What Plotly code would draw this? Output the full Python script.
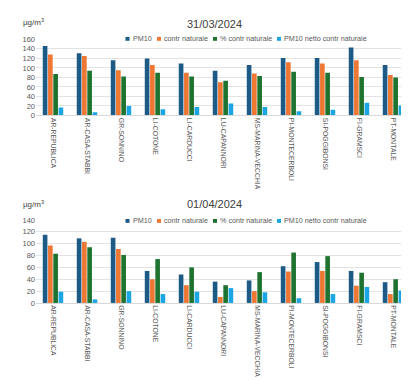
import plotly.graph_objects as go

stations = ["AR-REPUBLICA", "AR-CASA-STABBI", "GR-SONNINO", "LI-COTONE", "LI-CARDUCCI",
            "LU-CAPANNORI", "MS-MARINA-VECCHIA", "PI-MONTECERBOLI", "SI-POGGIBONSI",
            "FI-GRAMSCI", "PT-MONTALE"]

series_names = ["PM10", "contr naturale", "% contr naturale", "PM10 netto contr naturale"]
colors = ["#1D5B86", "#EE7733", "#1E7330", "#1BA6E3"]

# 31/03/2024
d1_pm10 = [146, 131, 116, 120, 109, 94, 106, 121, 121, 143, 106]
d1_contr = [128, 125, 95, 106, 90, 70, 88, 112, 109, 116, 85]
d1_perc = [87, 94, 82, 90, 82, 73, 83, 92, 90, 81, 80]
d1_netto = [17, 7, 20, 13, 18, 25, 18, 9, 12, 27, 21]

# 01/04/2024
d2_pm10 = [115, 109, 110, 54, 48, 36, 38, 62, 69, 54, 35]
d2_contr = [97, 103, 91, 40, 30, 10, 20, 53, 54, 29, 15]
d2_perc = [83, 94, 81, 74, 60, 30, 52, 85, 79, 51, 40]
d2_netto = [19, 6, 20, 15, 19, 25, 18, 8, 15, 27, 21]

titles = ["31/03/2024", "01/04/2024"]
y_tickvals = [[0, 20, 40, 60, 80, 100, 120, 140, 160], [0, 20, 40, 60, 80, 100, 120, 140]]
y_ranges = [[0, 160], [0, 140]]

W, H = 409, 380
FONT = "Liberation Sans, Arial, sans-serif"
fig = go.Figure()

def py(px):
    return 1 - px / H

datasets = [[d1_pm10, d1_contr, d1_perc, d1_netto], [d2_pm10, d2_contr, d2_perc, d2_netto]]
axes = [("x", "y"), ("x2", "y2")]
for i, data in enumerate(datasets):
    for j, vals in enumerate(data):
        fig.add_trace(go.Bar(
            x=stations, y=vals, name=series_names[j], marker_color=colors[j],
            marker_line_width=0, xaxis=axes[i][0], yaxis=axes[i][1], showlegend=False,
        ))

xdom = [28 / W, 402 / W]
top_dom = [py(106), py(28)]
bot_dom = [py(298), py(213)]

xtick_font = dict(family=FONT, size=6.8, color="#595959")
ytick_font = dict(family=FONT, size=7.5, color="#595959")
common_x = dict(tickangle=90, tickfont=xtick_font, showgrid=False, showline=True,
                linecolor="#D9D9D9", linewidth=1, ticks="", domain=xdom, fixedrange=True)
common_y = dict(tickfont=ytick_font, showgrid=True, gridcolor="#E3E3E3", gridwidth=1,
                zeroline=False, showline=False, ticks="", fixedrange=True)

annotations = []
shapes = []
# manual legends (one per chart)
legend_x = [119.5, 151, 207, 271]
legend_rows = [27.5, 214]
for ly in legend_rows:
    shapes.append(dict(type="rect", xref="paper", yref="paper", layer="above",
                       x0=116 / W, x1=360 / W, y0=py(ly + 4), y1=py(ly - 4),
                       fillcolor="white", line_width=0))
    for k, name in enumerate(series_names):
        shapes.append(dict(type="rect", xref="paper", yref="paper", layer="above",
                           x0=(legend_x[k] - 2) / W, x1=(legend_x[k] + 2) / W,
                           y0=py(ly + 2), y1=py(ly - 2), fillcolor=colors[k], line_width=0))
        annotations.append(dict(text=name, x=(legend_x[k] + 3) / W, y=py(ly), xref="paper",
                                yref="paper", showarrow=False, xanchor="left", yanchor="middle",
                                font=dict(family=FONT, size=7.2, color="#595959")))

title_rows = [(12, 10), (197, 197)]
for i, (ty, uy) in enumerate(title_rows):
    annotations.append(dict(text=titles[i], x=207 / W, y=py(ty), xref="paper", yref="paper",
                            showarrow=False, font=dict(family=FONT, size=11, color="#404040"),
                            xanchor="center", yanchor="middle"))
    annotations.append(dict(text="µg/m<sup>3</sup>", x=13 / W, y=py(uy), xref="paper", yref="paper",
                            showarrow=False, font=dict(family=FONT, size=8, color="#404040"),
                            xanchor="left", yanchor="middle"))

fig.update_layout(
    width=W, height=H, margin=dict(l=0, r=0, t=0, b=0),
    paper_bgcolor="white", plot_bgcolor="white",
    barmode="group", bargap=0.38, bargroupgap=0.12,
    font=dict(family=FONT, color="#595959"),
    showlegend=False,
    xaxis=dict(**common_x, anchor="y"),
    yaxis=dict(**common_y, domain=top_dom, range=y_ranges[0], tickvals=y_tickvals[0], anchor="x"),
    xaxis2=dict(**common_x, anchor="y2"),
    yaxis2=dict(**common_y, domain=bot_dom, range=y_ranges[1], tickvals=y_tickvals[1], anchor="x2"),
    annotations=annotations,
    shapes=shapes,
)

fig.write_html("out.html")
